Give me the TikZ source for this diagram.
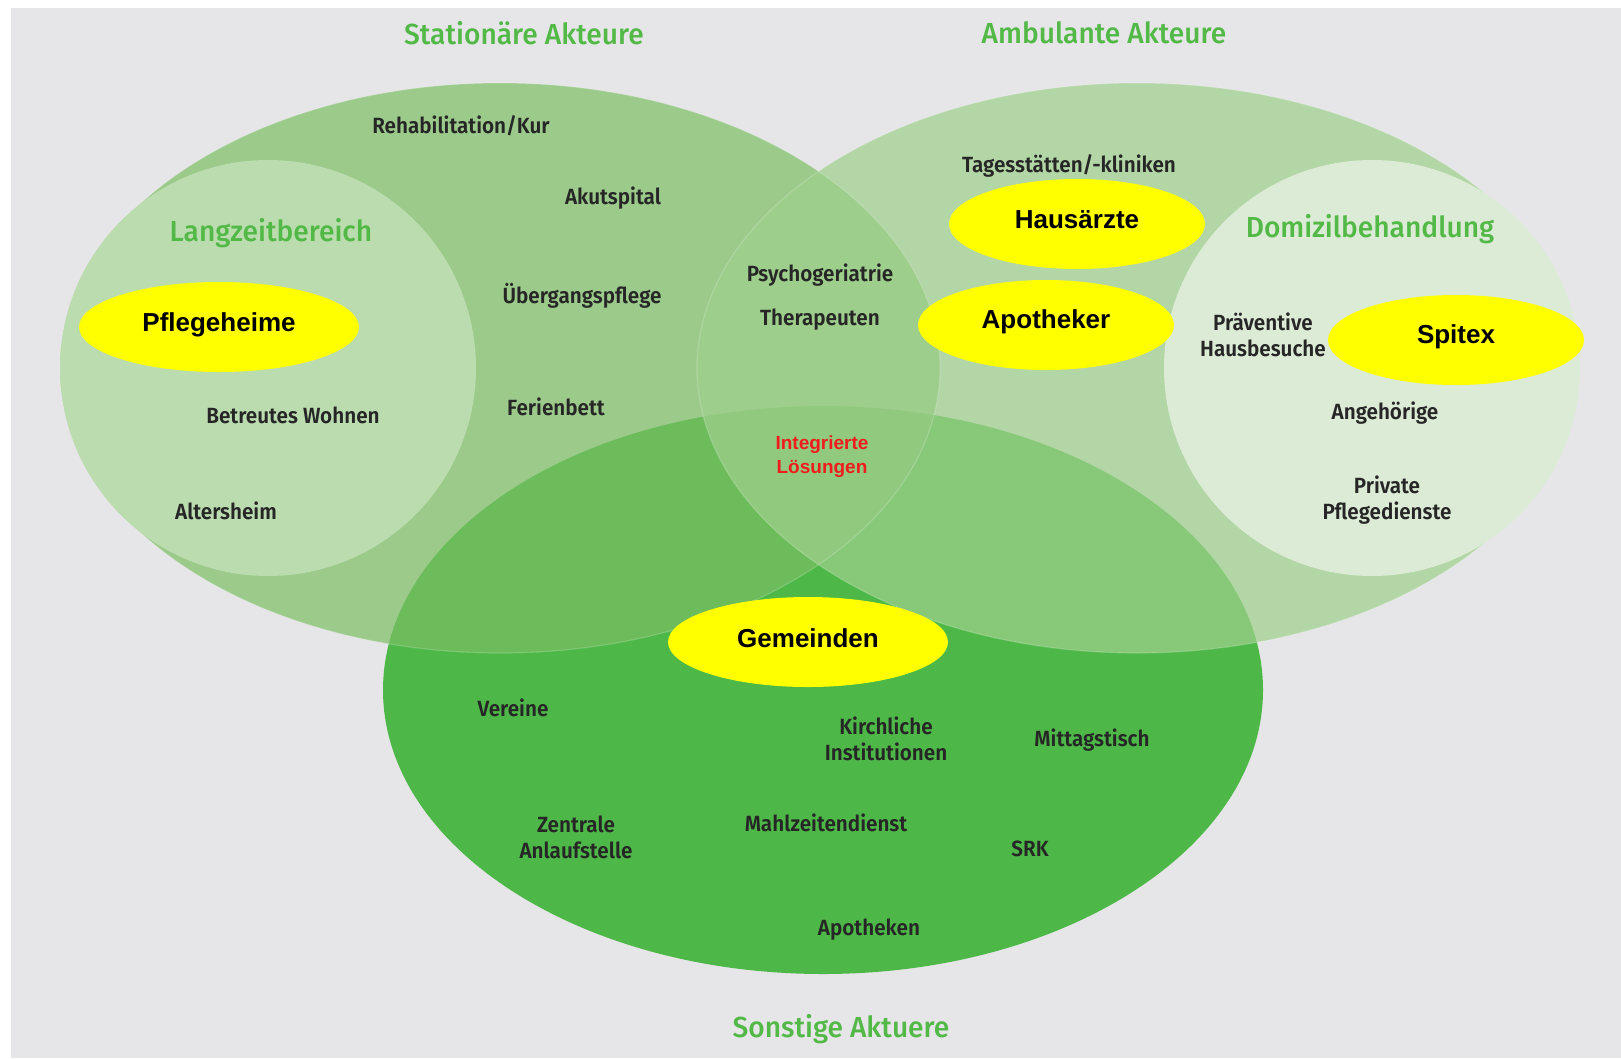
\documentclass[tikz,border=0pt]{standalone}
\usepackage{fontspec}
\usetikzlibrary{shapes.geometric}
\setmainfont{Liberation Sans}
\newfontfamily\labfont[FakeStretch=0.94]{Fira Sans SemiBold}
\newfontfamily\headfont[FakeStretch=0.97]{Fira Sans Medium}
\definecolor{bg}{HTML}{E6E6E8}
\definecolor{cB}{HTML}{4DB848}
\definecolor{cL}{RGB}{124,191,100}
\definecolor{cR}{RGB}{159,208,140}
\definecolor{cLZ}{HTML}{BBDCAF}
\definecolor{cDZ}{HTML}{DCEBD5}
\definecolor{headgreen}{HTML}{52B947}
\definecolor{labgray}{HTML}{262626}
\definecolor{redtxt}{HTML}{EE1C1C}
\definecolor{yelfill}{RGB}{255,255,0}
\tikzset{
  lbl/.style={font=\labfont\fontsize{22}{26}\selectfont, text=labgray, align=center, inner sep=0pt},
  headlbl/.style={font=\headfont\fontsize{29}{34}\selectfont, text=headgreen, inner sep=0pt},
  yel/.style={ellipse, fill=yelfill, inner sep=0pt, minimum height=90pt},
  yeltext/.style={inner sep=0pt, font=\bfseries\fontsize{26}{30}\selectfont, text=black},
  setedge/.style={draw=white, draw opacity=0.18, line width=1.2pt}
}
\begin{document}
\begin{tikzpicture}[x=1pt,y=-1pt]
\useasboundingbox (0,0) rectangle (1621,1058);
\fill[bg] (11,8) rectangle (1621,1058);
% sets
\fill[cB] (823,690) ellipse [x radius=440pt, y radius=284pt];
\fill[cL, fill opacity=0.7] (500,368) ellipse [x radius=440pt, y radius=285pt];
\fill[cR, fill opacity=0.72] (1137,368) ellipse [x radius=440pt, y radius=285pt];
\draw[setedge] (500,368) ellipse [x radius=440pt, y radius=285pt];
\draw[setedge] (1137,368) ellipse [x radius=440pt, y radius=285pt];
% inner circles
\fill[cLZ] (268,368) circle [radius=208pt];
\fill[cDZ] (1372,368) circle [radius=208pt];
% headings
\node[headlbl] (stat) at (524,33) {Stationäre Akteure};
\node[headlbl] (amb) at (1104,33) {Ambulante Akteure};
\node[headlbl] (sonst) at (841,1029) {Sonstige Aktuere};
\node[headlbl] (lzb) at (271,233) {Langzeitbereich};
\node[headlbl] (dom) at (1370,229) {Domizilbehandlung};
% yellow ellipses
\node[yel, minimum width=280pt] (pfl) at (219,327) {};
\node[yel, minimum width=256pt] (haus) at (1077,224) {};
\node[yel, minimum width=256pt] (apo) at (1046,325) {};
\node[yel, minimum width=256pt] (spi) at (1456,340) {};
\node[yel, minimum width=280pt] (gem) at (808,642) {};
\node[yeltext] (pflt) at ([yshift=2pt]pfl.center) {Pflegeheime};
\node[yeltext] (haust) at ([yshift=4pt]haus.center) {Hausärzte};
\node[yeltext] (apot) at ([yshift=3pt]apo.center) {Apotheker};
\node[yeltext] (spit) at ([yshift=3pt]spi.center) {Spitex};
\node[yeltext] (gemt) at ([yshift=4pt]gem.center) {Gemeinden};
% labels
\node[lbl] (reha) at (461,126) {Rehabilitation/Kur};
\node[lbl] (akut) at (613,198) {Akutspital};
\node[lbl] (ueber) at (582,296) {Übergangspflege};
\node[lbl] (ferien) at (556,407) {Ferienbett};
\node[lbl] (betr) at (293,415) {Betreutes Wohnen};
\node[lbl] (alt) at (226,511) {Altersheim};
\node[lbl] (psy) at (820,275) {Psychogeriatrie};
\node[lbl] (ther) at (820,320) {Therapeuten};
\node[align=center, inner sep=0pt, text=redtxt, font=\bfseries\fontsize{19}{24}\selectfont] (integ) at (822,457) {Integrierte\\Lösungen};
\node[lbl] (tages) at (1069,166) {Tagesstätten/-kliniken};
\node[lbl] (praev) at (1263,335) {Präventive\\Hausbesuche};
\node[lbl] (angeh) at (1385,413) {Angehörige};
\node[lbl] (priv) at (1387,500) {Private\\Pflegedienste};
\node[lbl] (ver) at (513,708) {Vereine};
\node[lbl] (kirch) at (886,739) {Kirchliche\\Institutionen};
\node[lbl] (mitt) at (1092,740) {Mittagstisch};
\node[lbl] (zent) at (576,837) {Zentrale\\Anlaufstelle};
\node[lbl] (mahl) at (826,823) {Mahlzeitendienst};
\node[lbl] (srk) at (1030,849) {SRK};
\node[lbl] (apoth) at (869,930) {Apotheken};
\end{tikzpicture}
\end{document}
